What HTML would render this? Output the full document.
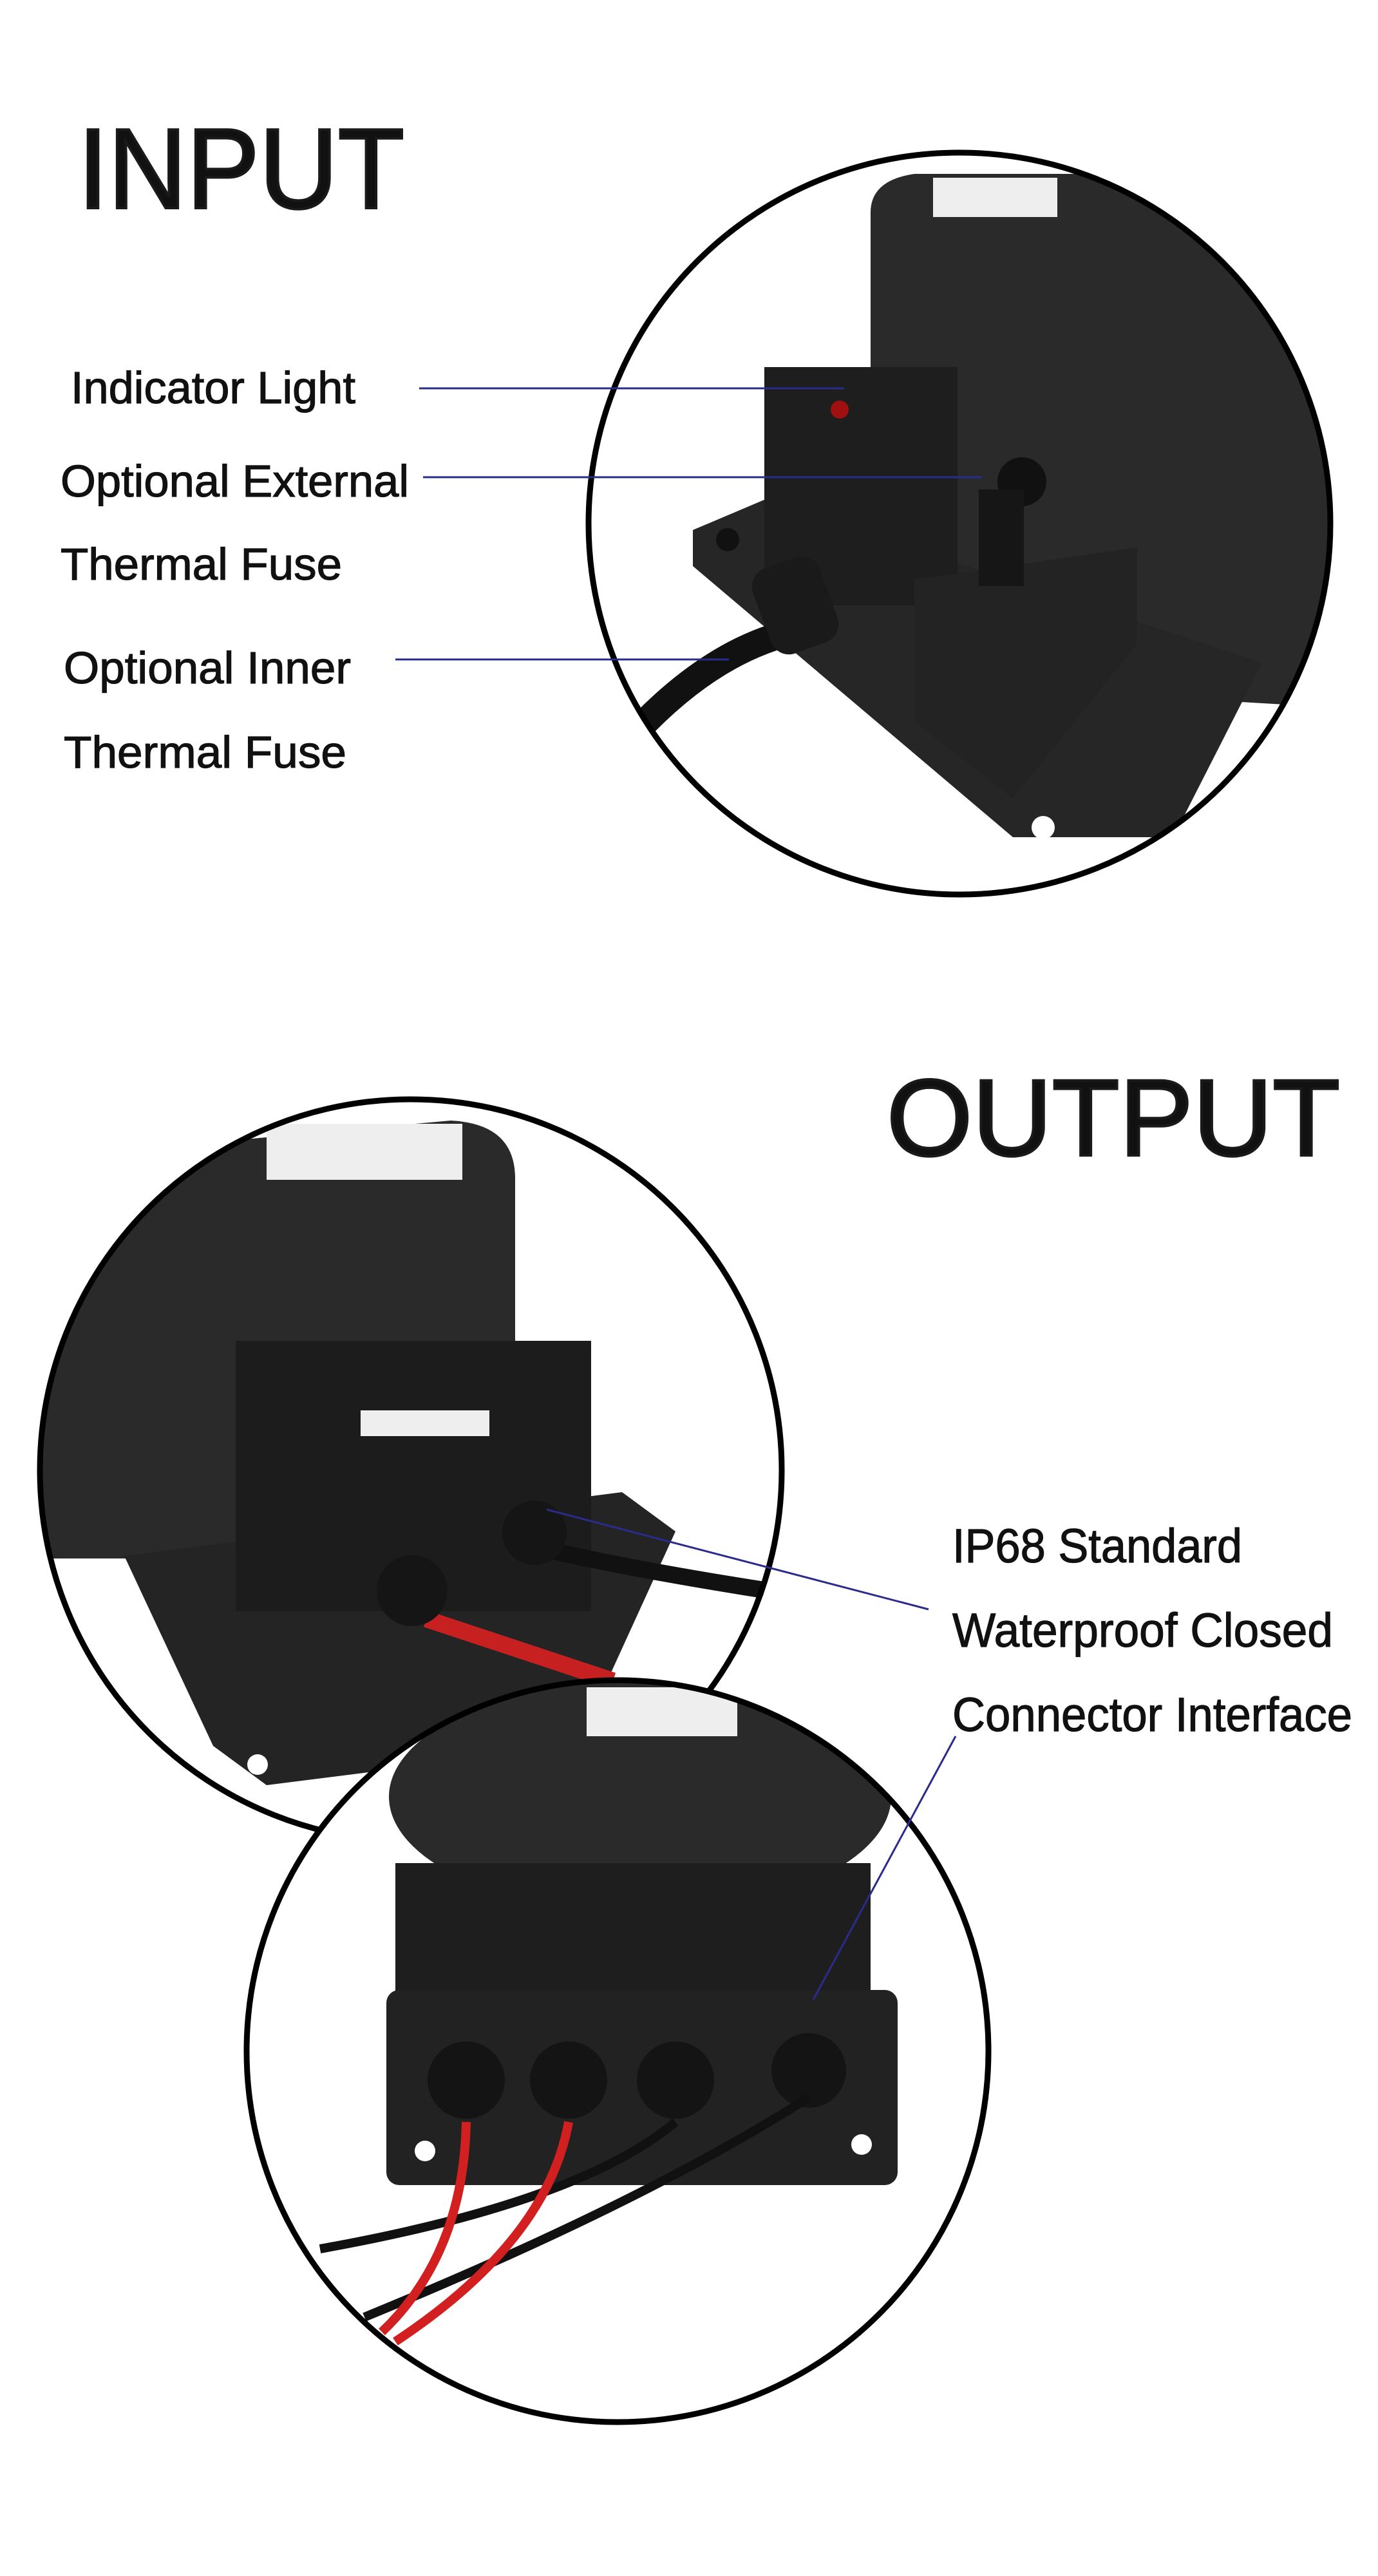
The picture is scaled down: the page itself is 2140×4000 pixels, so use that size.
<!DOCTYPE html>
<html><head><meta charset="utf-8"><style>
html,body{margin:0;padding:0;background:#fff;}
svg{display:block;}
text{font-family:"Liberation Sans",sans-serif;fill:#111;}
</style></head><body>
<svg width="2140" height="4000" viewBox="0 0 2140 4000" xmlns="http://www.w3.org/2000/svg">
<defs>
<clipPath id="c1"><circle cx="1490" cy="813" r="572"/></clipPath>
<clipPath id="c2"><circle cx="638" cy="2283" r="572"/></clipPath>
<clipPath id="c3"><circle cx="959" cy="3185" r="576"/></clipPath>
</defs>
<rect width="2140" height="4000" fill="#fff"/>

<text x="121" y="323" font-size="177" textLength="507" lengthAdjust="spacingAndGlyphs" fill="#1a1a1a" stroke="#1a1a1a" stroke-width="4">INPUT</text>

<!-- circle 1 content -->
<g clip-path="url(#c1)">
  <path d="M1352 1057 L1352 330 Q1352 280 1420 270 L2100 270 L2100 1100 Z" fill="#2a2a2a"/>
  <rect x="1449" y="276" width="193" height="61" fill="#eee"/>
  <polygon points="1076,823 1187,776 1904,1010 1960,1029 1822,1300 1573,1300 1076,879" fill="#262626"/>
  <rect x="1187" y="570" width="300" height="370" fill="#1e1e1e"/>
  <polygon points="1420,900 1766,850 1766,1000 1573,1240 1420,1120" fill="#232323"/>
  <circle cx="1620" cy="1285" r="18" fill="#fff"/>
  <circle cx="1130" cy="838" r="18" fill="#111"/>
  <circle cx="1304" cy="636" r="14" fill="#a01010"/>
  <circle cx="1587" cy="748" r="38" fill="#111"/>
  <rect x="1520" y="760" width="70" height="150" fill="#161616"/>
  <path d="M966 1160 Q1080 1030 1200 990" stroke="#111" stroke-width="42" fill="none"/>
  <rect x="1180" y="870" width="110" height="140" rx="30" fill="#1a1a1a" transform="rotate(-20 1235 940)"/>
</g>
<circle cx="1490" cy="813" r="576" fill="none" stroke="#000" stroke-width="9"/>

<g stroke="#111" stroke-width="1.2">
<text x="110" y="626" font-size="70" textLength="442" lengthAdjust="spacingAndGlyphs">Indicator Light</text>
<text x="94" y="771" font-size="70" textLength="541" lengthAdjust="spacingAndGlyphs">Optional External</text>
<text x="94" y="900" font-size="70" textLength="437" lengthAdjust="spacingAndGlyphs">Thermal Fuse</text>
<text x="99" y="1061" font-size="70" textLength="446" lengthAdjust="spacingAndGlyphs">Optional Inner</text>
<text x="99" y="1192" font-size="70" textLength="439" lengthAdjust="spacingAndGlyphs">Thermal Fuse</text>
</g>
<g stroke="#2b2b8c" stroke-width="3">
  <line x1="651" y1="603" x2="1311" y2="603"/>
  <line x1="657" y1="741" x2="1525" y2="741"/>
  <line x1="614" y1="1024" x2="1132" y2="1024"/>
</g>

<text x="1377" y="1794" font-size="169" textLength="704" lengthAdjust="spacingAndGlyphs" fill="#1a1a1a" stroke="#1a1a1a" stroke-width="4">OUTPUT</text>

<!-- circle 2 -->
<g clip-path="url(#c2)">
  <path d="M40 2420 L40 1800 L700 1740 Q800 1745 800 1830 L800 2420 Z" fill="#2a2a2a"/>
  <rect x="414" y="1745" width="304" height="87" fill="#eee"/>
  <polygon points="193,2416 966,2317 1049,2378 897,2711 414,2772 331,2711" fill="#242424"/>
  <rect x="366" y="2082" width="552" height="420" fill="#1c1c1c"/>
  <rect x="560" y="2190" width="200" height="40" fill="#eee"/>
  <circle cx="400" cy="2740" r="16" fill="#fff"/>
  <path d="M662 2514 Q800 2560 952 2610" stroke="#c62020" stroke-width="26" fill="none"/>
  <path d="M856 2408 Q1000 2440 1187 2469" stroke="#111" stroke-width="26" fill="none"/>
  <circle cx="640" cy="2470" r="55" fill="#151515"/>
  <circle cx="830" cy="2380" r="50" fill="#151515"/>
</g>
<circle cx="638" cy="2283" r="576" fill="none" stroke="#000" stroke-width="9"/>

<!-- circle 3 -->
<circle cx="959" cy="3185" r="576" fill="#fff"/>
<g clip-path="url(#c3)">
  <ellipse cx="994" cy="2790" rx="390" ry="180" fill="#2a2a2a"/>
  <rect x="911" y="2620" width="234" height="76" fill="#eee"/>
  <rect x="614" y="2893" width="738" height="212" fill="#1e1e1e"/>
  <rect x="600" y="3090" width="794" height="303" rx="20" fill="#222"/>
  <circle cx="660" cy="3340" r="16" fill="#fff"/>
  <circle cx="1338" cy="3330" r="16" fill="#fff"/>
  <g fill="#141414">
    <circle cx="724" cy="3230" r="60"/><circle cx="883" cy="3230" r="60"/>
    <circle cx="1049" cy="3230" r="60"/><circle cx="1256" cy="3215" r="58"/>
  </g>
  <g fill="none" stroke-width="14">
    <path d="M1049 3295 Q900 3420 497 3492" stroke="#111"/>
    <path d="M1256 3257 Q1000 3420 566 3598" stroke="#111"/>
    <path d="M724 3295 Q720 3500 593 3621" stroke="#d22020"/>
    <path d="M883 3295 Q850 3480 614 3636" stroke="#d22020"/>
  </g>
</g>
<circle cx="959" cy="3185" r="576" fill="none" stroke="#000" stroke-width="9"/>

<g stroke="#111" stroke-width="1.2">
<text x="1479" y="2426" font-size="74" textLength="450" lengthAdjust="spacingAndGlyphs">IP68 Standard</text>
<text x="1479" y="2557" font-size="74" textLength="591" lengthAdjust="spacingAndGlyphs">Waterproof Closed</text>
<text x="1479" y="2688" font-size="74" textLength="621" lengthAdjust="spacingAndGlyphs">Connector Interface</text>
</g>
<g stroke="#2b2b8c" stroke-width="3">
  <line x1="849" y1="2344" x2="1442" y2="2499"/>
  <line x1="1484" y1="2696" x2="1263" y2="3105"/>
</g>
</svg>
</body></html>
